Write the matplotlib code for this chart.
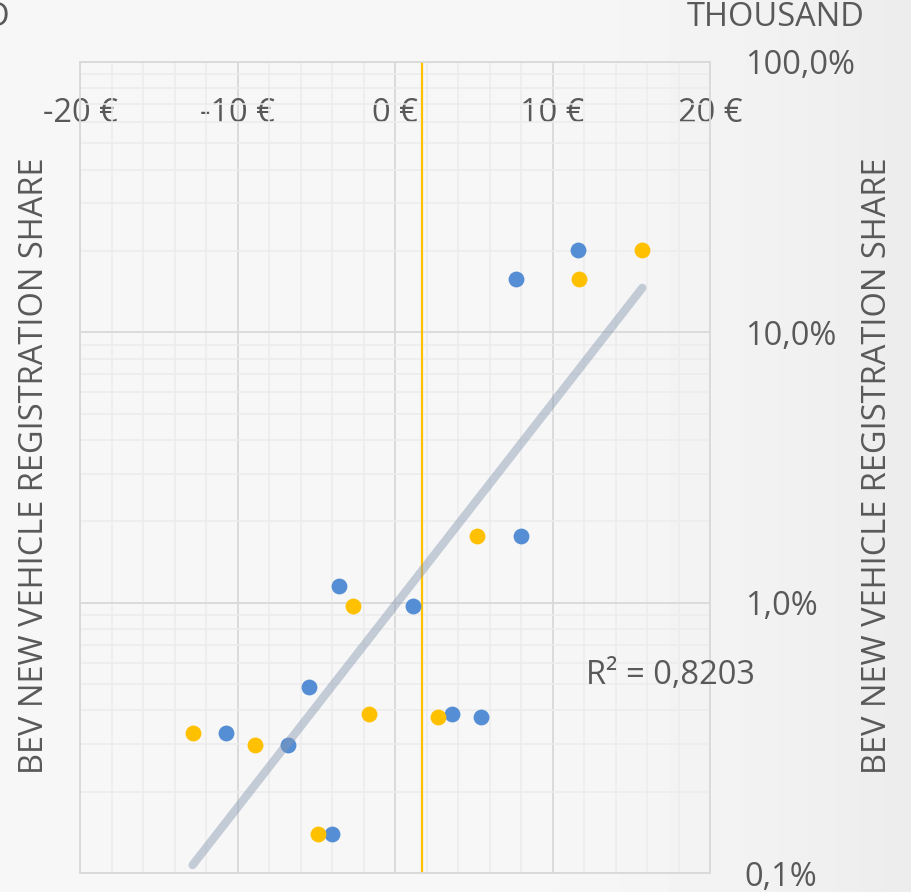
import numpy as np
import matplotlib.pyplot as plt
from matplotlib.ticker import FixedLocator, MultipleLocator, LogLocator, FuncFormatter, NullFormatter

plt.rcParams['font.family'] = ['Open Sans', 'DejaVu Sans']

# price gap in thousand EUR vs. BEV share of new registrations (%)
blue_x = [11.65, 7.66, 7.97, -3.54, 1.14, -5.44, 3.61, 5.44, -10.76, -6.77, -3.99]
blue_share = [20.2, 15.7, 1.76, 1.15, 0.97, 0.488, 0.387, 0.377, 0.329, 0.297, 0.139]
yellow_x = [15.70, 11.71, 5.23, -2.64, -1.65, 2.70, -12.85, -8.86, -4.87]
yellow_share = [20.2, 15.7, 1.76, 0.97, 0.387, 0.377, 0.329, 0.297, 0.139]

# exponential trendline (straight on log axis), end points
trend_x = [-12.85, 15.70]
trend_share = [0.107, 14.6]
r_squared = "0,8203"

breakeven_x = 1.7

x_ticks = [-20, -10, 0, 10, 20]
y_ticks = [0.1, 1, 10, 100]
y_label = "BEV NEW VEHICLE REGISTRATION SHARE"

txt = '#595959'
W, H = 912, 892
fig = plt.figure(figsize=(W / 100, H / 100), dpi=100)
fig.patch.set_facecolor('#f7f7f7')

# soft shading towards the right edge
bg = fig.add_axes([0, 0, 1, 1], zorder=-10)
gx = np.linspace(0, 1, 300)
shade = 247 - 11 * np.clip((gx - 0.45) / 0.55, 0, 1) ** 2
img = np.tile(shade, (50, 1))
bg.imshow(img, cmap='gray', vmin=0, vmax=255, aspect='auto', extent=[0, 1, 0, 1])
bg.axis('off')

def fx(px):
    return px / W

def fy(py):
    return 1 - py / H

ax = fig.add_axes([fx(80), fy(873), fx(710) - fx(80), fy(62) - fy(873)])
ax.set_facecolor('none')
ax.set_yscale('log')
ax.set_xlim(-20, 20)
ax.set_ylim(0.1, 100)

ax.xaxis.set_major_locator(FixedLocator(x_ticks))
ax.xaxis.set_minor_locator(MultipleLocator(2))
ax.yaxis.set_major_locator(FixedLocator(y_ticks))
ax.yaxis.set_minor_locator(LogLocator(base=10, subs=np.arange(2, 10)))
ax.yaxis.set_minor_formatter(NullFormatter())
ax.xaxis.set_major_formatter(FuncFormatter(lambda v, p: f"{int(v)} €"))
ax.yaxis.set_major_formatter(FuncFormatter(lambda v, p: f"{v:.1f}".replace('.', ',') + '%'))

ax.xaxis.tick_top()
ax.yaxis.tick_right()
ax.tick_params(axis='x', which='both', length=0, pad=-49, labelsize=23.5, labelcolor=txt)
ax.tick_params(axis='y', which='both', length=0, pad=25, labelsize=23.5, labelcolor=txt)
for lab in ax.get_yticklabels():
    lab.set_horizontalalignment('left')

ax.grid(which='minor', color='#ececec', linewidth=1.1)
ax.grid(which='major', color='#d9d9d9', linewidth=1.3)
ax.set_axisbelow(True)
for s in ax.spines.values():
    s.set_color('#d9d9d9')
    s.set_linewidth(1.3)

ax.axvline(breakeven_x, color='#ffc000', linewidth=1.6, zorder=2)
ax.scatter(blue_x, blue_share, s=130, color='#558ed5', linewidths=0, zorder=3)
ax.scatter(yellow_x, yellow_share, s=130, color='#ffc000', linewidths=0, zorder=3)
ax.plot(trend_x, trend_share, color='#8497b0', alpha=0.45, linewidth=6,
        solid_capstyle='round', zorder=4)

fig.text(fx(586), fy(675), "R² = " + r_squared, fontsize=23.5, color=txt, va='center', ha='left')
fig.text(fx(35), fy(466), y_label, rotation=90, fontsize=23.5, color=txt, va='center', ha='center')
fig.text(fx(878), fy(466), y_label, rotation=90, fontsize=23.5, color=txt, va='center', ha='center')
fig.text(fx(865), fy(18), "THOUSAND", fontsize=23.5, color=txt, va='center', ha='right')
fig.text(fx(10), fy(18), "D", fontsize=23.5, color=txt, va='center', ha='right')

fig.savefig('out.png', dpi=100, facecolor=fig.get_facecolor())
